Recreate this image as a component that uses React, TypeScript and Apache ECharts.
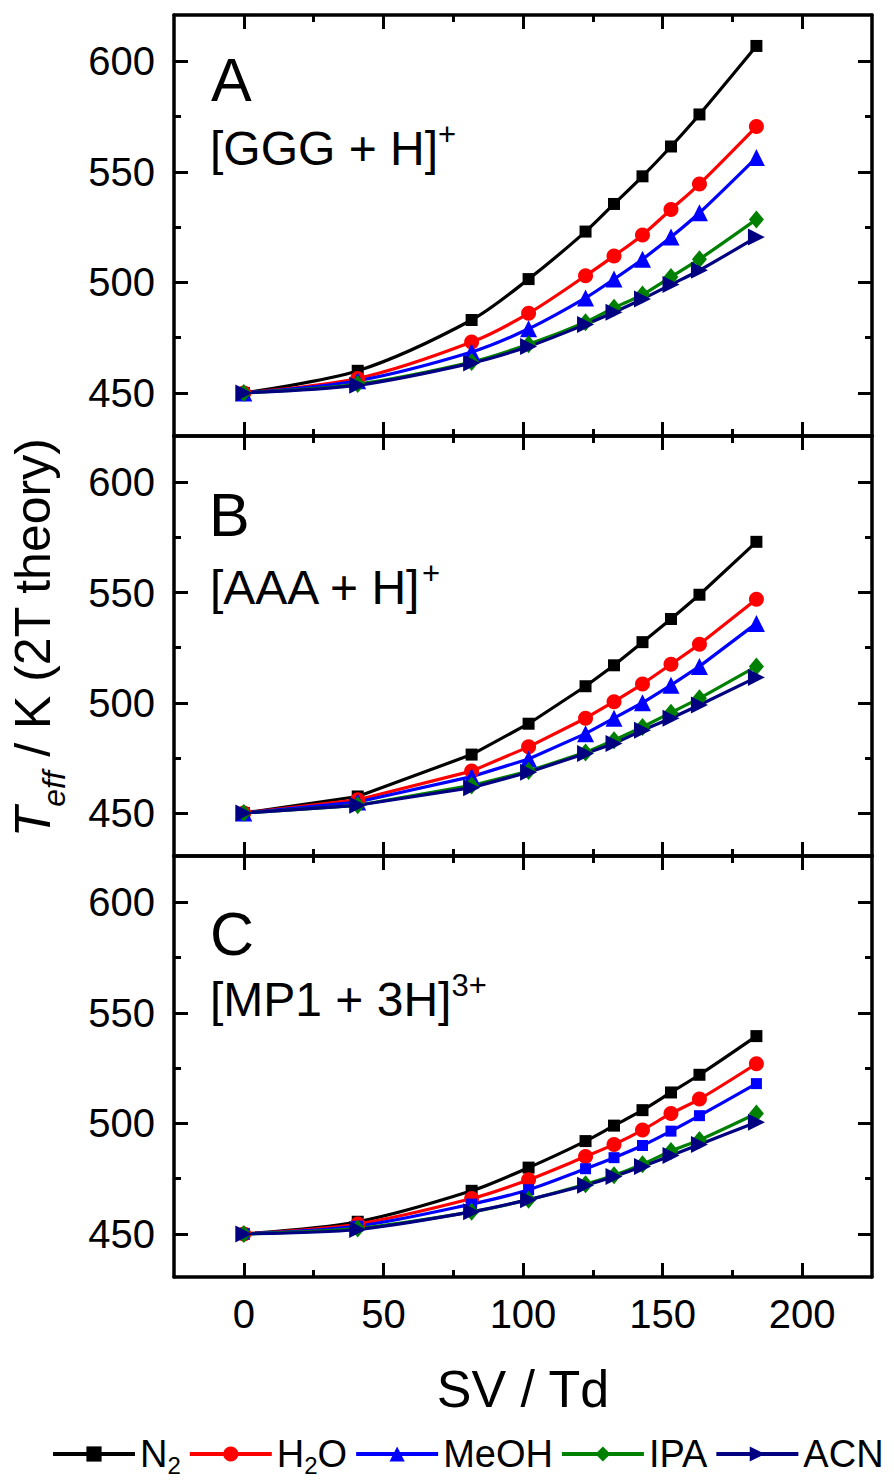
import React, { useEffect, useRef } from 'react';
import * as echarts from 'echarts';

// ---------- data ----------
const SV = [0, 40.8, 81.6, 102, 122.4, 132.6, 142.8, 153, 163.2, 183.6];

const SERIES_NAMES = ['N2', 'H2O', 'MeOH', 'IPA', 'ACN'];
const LEGEND_LABELS = ['N{sub|2}', 'H{sub|2}O', 'MeOH', 'IPA', 'ACN'];

const PANEL_LETTERS = ['A', 'B', 'C'];
const PANEL_IONS = ['[GGG + H]', '[AAA + H]', '[MP1 + 3H]'];
const PANEL_CHARGES = ['+', '+', '3+'];

// Panel A: [GGG + H]+
const A_N2 = [450, 460, 483, 501.5, 523, 535.5, 548, 561.5, 576, 607];
const A_H2O = [450, 456.5, 473, 486, 503, 512, 521.5, 533, 544.5, 570.5];
const A_MEOH = [450, 455.5, 468.5, 479, 493, 501.5, 510.5, 520.5, 531.5, 556.5];
const A_IPA = [450, 454, 464, 472, 482, 488.5, 494.5, 502.5, 510.5, 528.5];
const A_ACN = [450, 453.5, 463.5, 471, 481, 486.5, 492.5, 499, 505.5, 520.5];

// Panel B: [AAA + H]+
const B_N2 = [450, 457.5, 476.5, 490.5, 507.5, 517, 527.5, 538, 549, 573];
const B_H2O = [450, 456, 469, 480, 493, 500.5, 508.5, 517.5, 526.5, 547];
const B_MEOH = [450, 455, 466.5, 474.5, 486, 493, 500, 508, 516.5, 536];
const B_IPA = [450, 453.5, 462.5, 469, 477.5, 483, 489, 495.5, 502, 516.5];
const B_ACN = [450, 453.5, 461.5, 468.5, 477, 481.5, 487.5, 493, 499, 511.5];

// Panel C: [MP1 + 3H]3+
const C_N2 = [450, 455.5, 469.5, 480, 492, 499, 506, 514, 522, 539.5];
const C_H2O = [450, 454.5, 466, 474.5, 485, 490.5, 497, 504.5, 511, 527];
const C_MEOH = [450, 453.5, 463.5, 470, 479.5, 484.5, 490, 496.5, 503.5, 518];
const C_IPA = [450, 452.5, 460, 465.5, 472.5, 476.5, 481.5, 487.5, 492.5, 504.5];
const C_ACN = [450, 452, 460, 465.5, 472, 476, 480.5, 485.5, 490.5, 500.5];

const PANEL_DATA = [
  [A_N2, A_H2O, A_MEOH, A_IPA, A_ACN],
  [B_N2, B_H2O, B_MEOH, B_IPA, B_ACN],
  [C_N2, C_H2O, C_MEOH, C_IPA, C_ACN],
];

const X_TICKS = [0, 50, 100, 150, 200];
const X_MINOR_TICKS = [25, 75, 125, 175];
const Y_TICKS = [450, 500, 550, 600];
const Y_MINOR_TICKS = [475, 525, 575];

// ---------- styles ----------
const X_MIN = -25;
const X_MAX = 225;
const Y_MIN = 430.5;
const Y_MAX = 621;

const FONT = '"Liberation Sans", Arial, Helvetica, sans-serif';
const COLORS = ['#000000', '#FF0000', '#0000FF', '#008000', '#000080'];
const PANEL_SYMBOLS = [
  ['rect', 'circle', 'triangle', 'diamond', 'triangle'],
  ['rect', 'circle', 'triangle', 'diamond', 'triangle'],
  ['rect', 'circle', 'rect', 'diamond', 'triangle'],
];
const PANEL_SYMBOL_SIZES: any[] = [
  [12, 15, 17, [15, 18], 17],
  [12, 15, 17, [15, 18], 17],
  [12, 15, 11, [15, 18], 17],
];
const SYMBOL_ROTATE = [0, 0, 0, 0, -90];
const PANEL_SMOOTH = [0.3, false, 0.3];

const GRID_LEFT = 174;
const GRID_WIDTH = 698;
const GRID_TOPS = [15, 436, 856];
const GRID_HEIGHTS = [421, 420, 421];

const LETTER_POS = [
  [211, 49],
  [209, 484],
  [210, 903],
];
const ION_POS = [
  [210, 118.6],
  [210, 557.6],
  [210, 969.6],
];

function buildXAxes(g: number, withLabels: boolean) {
  const line = { show: true, onZero: false, lineStyle: { color: '#000', width: 3.5 } };
  const base = {
    gridIndex: g,
    type: 'value',
    min: X_MIN,
    max: X_MAX,
    splitLine: { show: false },
    axisLabel: { show: false },
  };
  const major = (pos: string): any => ({
    ...base,
    position: pos,
    axisLine: line,
    axisTick: { show: true, inside: true, length: 14, customValues: X_TICKS, lineStyle: { color: '#000', width: 3 } },
  });
  const minor = (pos: string): any => ({
    ...base,
    position: pos,
    axisLine: { show: false, onZero: false },
    axisTick: { show: true, inside: true, length: 7, customValues: X_MINOR_TICKS, lineStyle: { color: '#000', width: 3 } },
  });
  const bottom = major('bottom');
  if (withLabels) {
    bottom.axisLabel = {
      show: true,
      customValues: X_TICKS,
      fontSize: 40,
      fontFamily: FONT,
      color: '#000',
      margin: 17,
    };
    bottom.name = 'SV / Td';
    bottom.nameLocation = 'middle';
    bottom.nameGap = 86;
    bottom.nameTextStyle = { fontSize: 52, fontFamily: FONT, color: '#000' };
  }
  return [bottom, minor('bottom'), major('top'), minor('top')];
}

function buildYAxes(g: number) {
  const line = { show: true, onZero: false, lineStyle: { color: '#000', width: 3.5 } };
  const base = {
    gridIndex: g,
    type: 'value',
    min: Y_MIN,
    max: Y_MAX,
    splitLine: { show: false },
    axisLabel: { show: false },
  };
  const major = (pos: string): any => ({
    ...base,
    position: pos,
    axisLine: line,
    axisTick: { show: true, inside: true, length: 14, customValues: Y_TICKS, lineStyle: { color: '#000', width: 3 } },
  });
  const minor = (pos: string): any => ({
    ...base,
    position: pos,
    axisLine: { show: false, onZero: false },
    axisTick: { show: true, inside: true, length: 7, customValues: Y_MINOR_TICKS, lineStyle: { color: '#000', width: 3 } },
  });
  const left = major('left');
  left.axisLabel = {
    show: true,
    customValues: Y_TICKS,
    fontSize: 40,
    fontFamily: FONT,
    color: '#000',
    margin: 19,
  };
  return [left, minor('left'), major('right'), minor('right')];
}

function buildOption() {
  const grids = GRID_TOPS.map((top, g) => ({
    left: GRID_LEFT,
    top,
    width: GRID_WIDTH,
    height: GRID_HEIGHTS[g],
    containLabel: false,
  }));
  const xAxis: any[] = [];
  const yAxis: any[] = [];
  for (let g = 0; g < 3; g++) {
    xAxis.push(...buildXAxes(g, g === 2));
    yAxis.push(...buildYAxes(g));
  }
  const series: any[] = [];
  for (let g = 0; g < 3; g++) {
    PANEL_DATA[g].forEach((vals, s) => {
      series.push({
        type: 'line',
        name: SERIES_NAMES[s],
        xAxisIndex: g * 4,
        yAxisIndex: g * 4,
        data: SV.map((x, i) => [x, vals[i]]),
        symbol: PANEL_SYMBOLS[g][s],
        symbolSize: PANEL_SYMBOL_SIZES[g][s],
        symbolRotate: SYMBOL_ROTATE[s],
        smooth: PANEL_SMOOTH[g],
        showSymbol: true,
        lineStyle: { color: COLORS[s], width: 3.2 },
        itemStyle: { color: COLORS[s] },
        emphasis: { disabled: true },
      });
    });
  }

  const graphic: any[] = [];
  PANEL_LETTERS.forEach((letter, g) => {
    graphic.push({
      type: 'text',
      x: LETTER_POS[g][0],
      y: LETTER_POS[g][1],
      style: {
        text: letter,
        fontSize: 61,
        fontFamily: FONT,
        fill: '#000',
        align: 'left',
        verticalAlign: 'top',
      },
    });
    graphic.push({
      type: 'text',
      x: ION_POS[g][0],
      y: ION_POS[g][1],
      style: {
        text: `{m|${PANEL_IONS[g]}}{s|${PANEL_CHARGES[g]}}`,
        fill: '#000',
        align: 'left',
        verticalAlign: 'top',
        rich: {
          m: { fontSize: 48, fontFamily: FONT, lineHeight: 54, verticalAlign: 'bottom', fill: '#000' },
          s: { fontSize: 31, fontFamily: FONT, verticalAlign: 'top', fill: '#000' },
        },
      },
    });
  });
  graphic.push({
    type: 'text',
    x: 32.5,
    y: 637.5,
    rotation: Math.PI / 2,
    style: {
      text: '{it|T}{sub|eff}{n| / K (2T theory)}',
      fill: '#000',
      align: 'center',
      verticalAlign: 'middle',
      rich: {
        it: { fontSize: 50, fontFamily: FONT, fontStyle: 'italic', fill: '#000' },
        sub: { fontSize: 32, fontFamily: FONT, fontStyle: 'italic', verticalAlign: 'bottom', fill: '#000' },
        n: { fontSize: 50, fontFamily: FONT, lineHeight: 74, fill: '#000' },
      },
    },
  });

  return {
    animation: false,
    backgroundColor: '#ffffff',
    grid: grids,
    xAxis,
    yAxis,
    series,
    graphic,
    legend: {
      data: SERIES_NAMES,
      left: 46,
      top: 1426,
      itemWidth: 82,
      itemHeight: 19,
      itemGap: 7,
      selectedMode: false,
      formatter: (name: string) => LEGEND_LABELS[SERIES_NAMES.indexOf(name)],
      lineStyle: { width: 4 },
      textStyle: {
        fontSize: 38,
        fontFamily: FONT,
        color: '#000',
        lineHeight: 46,
        rich: {
          sub: { fontSize: 24, fontFamily: FONT, color: '#000', verticalAlign: 'bottom' },
        },
      },
    },
  };
}

export default function App() {
  const ref = useRef<HTMLDivElement>(null);
  useEffect(() => {
    if (!ref.current) return;
    const chart = echarts.init(ref.current, null, { renderer: 'svg' });
    chart.setOption(buildOption() as any);
    return () => {
      chart.dispose();
    };
  }, []);
  return (
    <div
      ref={ref}
      style={{ position: 'absolute', left: 0, top: 0, width: 894, height: 1481, background: '#fff' }}
    />
  );
}
